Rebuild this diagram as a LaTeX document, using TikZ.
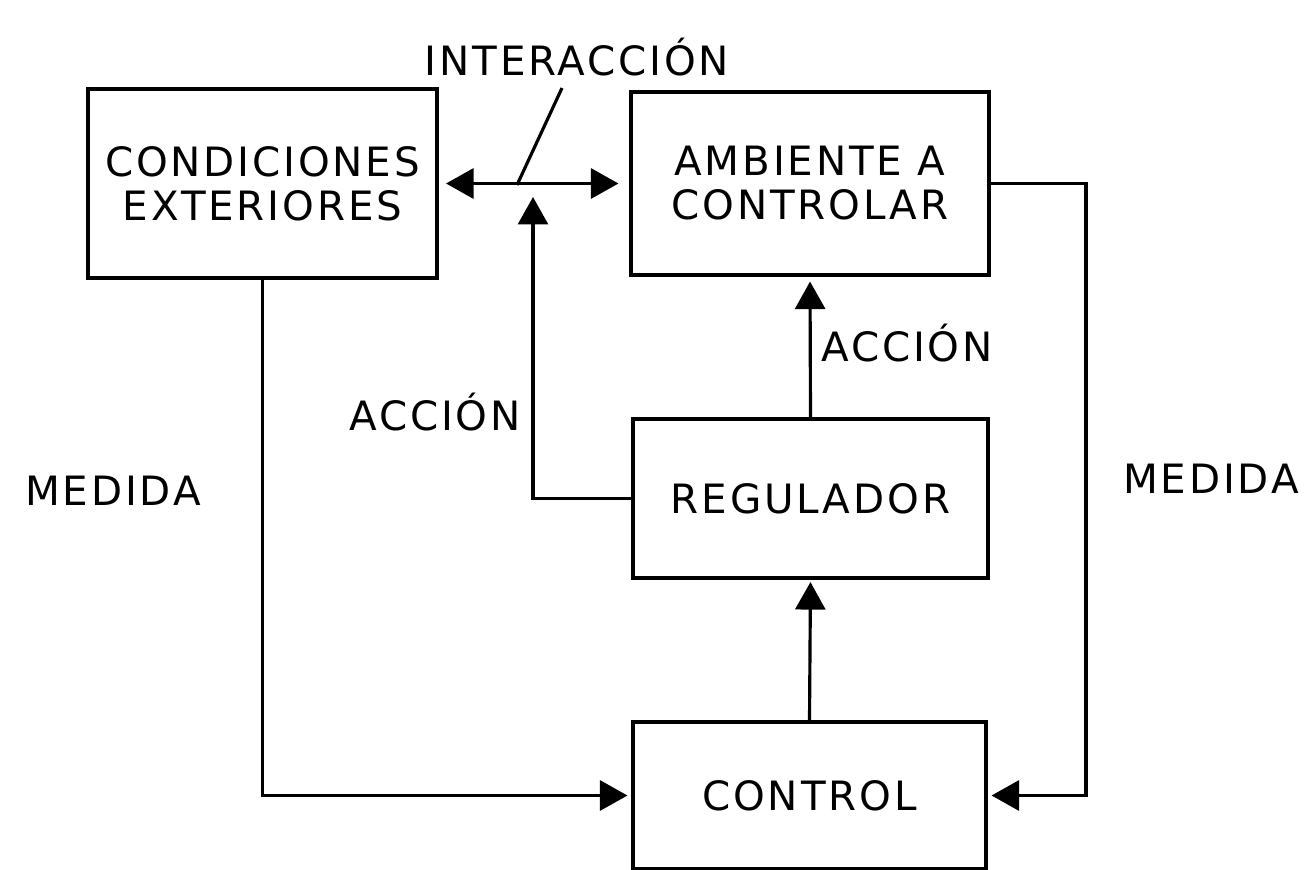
\documentclass[tikz,border=0pt]{standalone}
\usepackage{fontspec}
\setmainfont{DejaVu Sans}[LetterSpace=7]
\usetikzlibrary{arrows.meta}
\tikzset{
  box/.style={draw, line width=1.8pt, inner sep=0pt, align=center, font=\fontsize{23}{25}\selectfont},
  lbl/.style={inner sep=0pt, anchor=base, font=\fontsize{23}{25}\selectfont},
  conn/.style={line width=1.8pt},
  tip/.style={-{Triangle[length=0.55cm,width=0.6cm]}},
  dtip/.style={{Triangle[length=0.55cm,width=0.6cm]}-{Triangle[length=0.55cm,width=0.6cm]}}
}
\begin{document}
\begin{tikzpicture}[x=0.02cm,y=-0.02cm]
\useasboundingbox (0,0) rectangle (1305,869);
% boxes
\node[box, minimum width=6.98cm, minimum height=3.78cm] (cond) at (262.5,183.5) {CONDICIONES\\EXTERIORES};
\node[box, minimum width=7.16cm, minimum height=3.66cm] (amb) at (810,183.5) {AMBIENTE A\\CONTROLAR};
\node[box, minimum width=7.1cm, minimum height=3.18cm] (reg) at (810.5,498.5) {REGULADOR};
\node[box, minimum width=7.06cm, minimum height=2.94cm] (ctl) at (809.5,795.5) {CONTROL};
% labels
\node[lbl] (inter) at (577,75) {INTERACCIÓN};
\node[lbl] (accr) at (907,361) {ACCIÓN};
\node[lbl] (accl) at (435,430) {ACCIÓN};
\node[lbl] (medl) at (113,505) {MEDIDA};
\node[lbl] (medr) at (1211,493) {MEDIDA};
% coordinates
\coordinate (leadtop) at (562,88);
\coordinate (leadbot) at (517,185);
\coordinate (acttip) at (533,197);
\coordinate (rc) at (1086,0);
% connectors
\draw[conn, dtip, shorten <=0.15cm, shorten >=0.22cm] (cond.east) -- (amb.west);
\draw[conn] (leadtop) -- (leadbot);
\draw[conn, tip] (reg.west) -| (acttip);
\draw[conn, tip, shorten >=0.1cm] (reg.north) -- (amb.south);
\draw[conn, tip, shorten >=0.05cm] (ctl.north) -- (reg.south);
\draw[conn, tip, shorten >=0.08cm] (cond.south) |- (ctl.west);
\draw[conn, tip, shorten >=0.08cm] (amb.east) -- (amb.east -| rc) -- (ctl.east -| rc) -- (ctl.east);
\end{tikzpicture}
\end{document}
